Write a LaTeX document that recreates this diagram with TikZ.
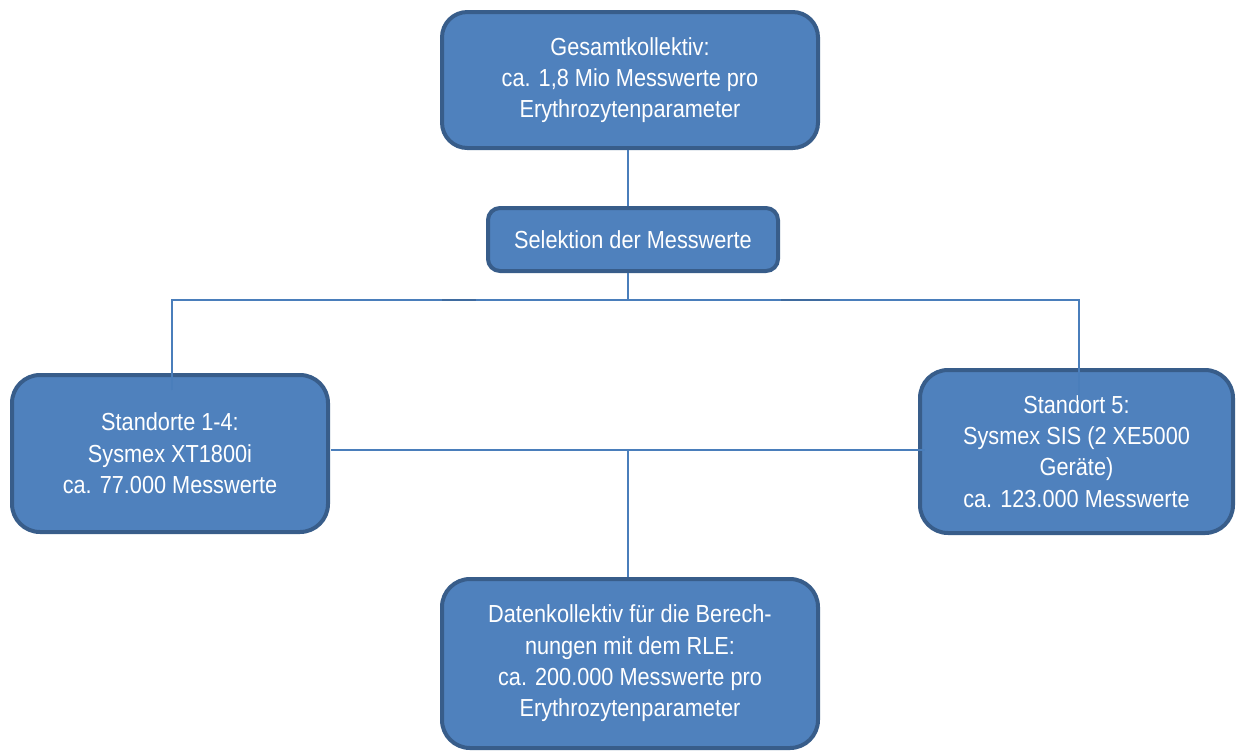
\documentclass[tikz,border=0pt]{standalone}
\usepackage{fontspec}
\setmainfont{Liberation Sans}[FakeStretch=0.88]
\definecolor{boxfill}{HTML}{4F81BD}
\definecolor{boxline}{HTML}{385D8A}
\definecolor{conn}{HTML}{4A7EBB}
\begin{document}
\begin{tikzpicture}[x=0.75pt,y=-0.75pt,
  box/.style={draw=boxline, fill=boxfill, line width=3pt, text=white,
    align=center, inner sep=0pt, font=\fontsize{18.5}{23.5}\selectfont},
  conline/.style={draw=conn, line width=1.5pt},
  tick/.style={draw=conn!85!black, line width=2pt}]
\useasboundingbox (0,0) rectangle (1240,751);
\node[box, rounded corners=19pt, minimum width=282pt, minimum height=102pt] (top) at (630,80)
  {Gesamtkollektiv:\\ca. 1,8 Mio Messwerte pro\\Erythrozytenparameter};
\node[box, rounded corners=9pt, minimum width=217.5pt, minimum height=47.25pt] (sel) at (633,239.5)
  {Selektion der Messwerte};
\node[box, rounded corners=21pt, minimum width=237pt, minimum height=117.75pt] (left) at (170,453.5)
  {Standorte 1-4:\\Sysmex XT1800i\\ca. 77.000 Messwerte};
\node[box, rounded corners=21pt, minimum width=234.75pt, minimum height=122.25pt] (right) at (1076.5,451.5)
  {Standort 5:\\Sysmex SIS (2 XE5000\\Geräte)\\ca. 123.000 Messwerte};
\node[box, rounded corners=21pt, minimum width=282pt, minimum height=126.75pt] (bot) at (630,663.5)
  {Datenkollektiv für die Berech-\\nungen mit dem RLE:\\ca. 200.000 Messwerte pro\\Erythrozytenparameter};
\coordinate (j1) at (628,300);
\coordinate (jl) at (172,300);
\coordinate (jr) at (1079,300);
\coordinate (le) at (172,390);
\coordinate (re) at (1079,400);
\coordinate (j2) at (628,450);
\coordinate (hl) at (331,450);
\coordinate (hr) at (925,450);
\coordinate (t1a) at (442,300);
\coordinate (t1b) at (476,300);
\coordinate (t2a) at (781,300);
\coordinate (t2b) at (830,300);
\draw[conline] (top.south -| j1) -- (sel.north -| j1);
\draw[conline] (sel.south -| j1) -- (j1);
\draw[conline] (le) -- (jl) -- (jr) -- (re);
\draw[conline] (hl) -- (hr);
\draw[conline] (j2) -- (bot.north -| j2);
\draw[tick] (t1a) -- (t1b);
\draw[tick] (t2a) -- (t2b);
\end{tikzpicture}
\end{document}
